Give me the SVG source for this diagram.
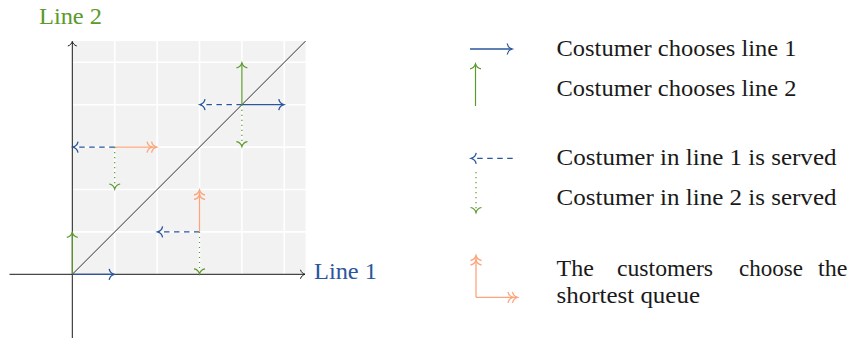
<svg xmlns="http://www.w3.org/2000/svg" width="861" height="338" viewBox="0 0 861 338">
<style>
.t{font-family:"Liberation Serif","DejaVu Serif","Noto Serif",serif;font-size:24px;fill:#1a1a1a}
.grid{stroke:#ffffff;stroke-width:1.6;fill:none}
.ax{stroke:#1a1a1a;stroke-width:1;fill:none}
.b{stroke:#2a569b;stroke-width:1.3;fill:none}
.g{stroke:#5b9a2b;stroke-width:1.2;fill:none}
.o{stroke:#fba57c;stroke-width:1.3;fill:none}
.bd{stroke-dasharray:5.5,4.5}
.gd{stroke-dasharray:1.2,3.8}
</style>
<defs>
<marker id="mk" markerUnits="userSpaceOnUse" viewBox="-7 -6 8 12" refX="0" refY="0" markerWidth="8" markerHeight="12" orient="auto" overflow="visible">
<path d="M-4.5,-4.5 C-4,-2 -1.5,-0.4 0,0 C-1.5,0.4 -4,2 -4.5,4.5" fill="none" stroke="#1a1a1a" stroke-width="1"/>
</marker>
<marker id="mb" markerUnits="userSpaceOnUse" viewBox="-7 -6 8 12" refX="0" refY="0" markerWidth="8" markerHeight="12" orient="auto" overflow="visible">
<path d="M-5,-5.5 C-4.5,-2.4 -1.7,-0.5 0,0 C-1.7,0.5 -4.5,2.4 -5,5.5" fill="none" stroke="#2a569b" stroke-width="1.3"/>
</marker>
<marker id="mg" markerUnits="userSpaceOnUse" viewBox="-7 -6 8 12" refX="0" refY="0" markerWidth="8" markerHeight="12" orient="auto" overflow="visible">
<path d="M-5,-5.5 C-4.5,-2.4 -1.7,-0.5 0,0 C-1.7,0.5 -4.5,2.4 -5,5.5" fill="none" stroke="#5b9a2b" stroke-width="1.2"/>
</marker>
<marker id="mo" markerUnits="userSpaceOnUse" viewBox="-12 -6 13 12" refX="0" refY="0" markerWidth="13" markerHeight="12" orient="auto" overflow="visible">
<path d="M-5,-5.5 C-4.5,-2.4 -1.7,-0.5 0,0 C-1.7,0.5 -4.5,2.4 -5,5.5 M-9.5,-5.5 C-9,-2.4 -6.2,-0.5 -4.5,0 C-6.2,0.5 -9,2.4 -9.5,5.5" fill="none" stroke="#fba57c" stroke-width="1.3"/>
</marker>
</defs>

<g id="grid">
<rect x="72.3" y="41.1" width="233.2" height="233.2" fill="#f2f2f2"/>
<path class="grid" d="M114.7,41.1V274.3M157.1,41.1V274.3M199.5,41.1V274.3M241.9,41.1V274.3M284.3,41.1V274.3M72.3,231.9H305.5M72.3,189.5H305.5M72.3,147.1H305.5M72.3,104.7H305.5M72.3,62.3H305.5"/>
</g>

<g id="axes">
<line class="ax" x1="9.5" y1="274.3" x2="305" y2="274.3" marker-end="url(#mk)"/>
<line class="ax" x1="72.3" y1="338" x2="72.3" y2="41.5" marker-end="url(#mk)"/>
<line x1="72.3" y1="274.3" x2="305.5" y2="41.1" stroke="#1a1a1a" stroke-width="0.9"/>
<text id="label-line1" class="t" x="314" y="279" textLength="63" lengthAdjust="spacingAndGlyphs" style="fill:#2a569b">Line 1</text>
<text id="label-line2" class="t" x="39" y="24" textLength="63" lengthAdjust="spacingAndGlyphs" style="fill:#5b9a2b">Line 2</text>
</g>

<g id="connectors">
<line class="b" x1="72.3" y1="274.3" x2="114.2" y2="274.3" marker-end="url(#mb)"/>
<line class="g" x1="72.3" y1="274.3" x2="72.3" y2="232.4" marker-end="url(#mg)"/>

<line class="b bd" x1="114.7" y1="147.1" x2="73" y2="147.1" marker-end="url(#mb)"/>
<line class="o" x1="114.7" y1="147.1" x2="156.6" y2="147.1" marker-end="url(#mo)"/>
<line class="g gd" x1="114.7" y1="147.1" x2="114.7" y2="189" marker-end="url(#mg)"/>

<line class="b bd" x1="199.5" y1="231.9" x2="157.6" y2="231.9" marker-end="url(#mb)"/>
<line class="o" x1="199.5" y1="231.9" x2="199.5" y2="190" marker-end="url(#mo)"/>
<line class="g gd" x1="199.5" y1="231.9" x2="199.5" y2="273.8" marker-end="url(#mg)"/>

<line class="b" x1="241.9" y1="104.7" x2="283.8" y2="104.7" marker-end="url(#mb)"/>
<line class="b bd" x1="241.9" y1="104.7" x2="200" y2="104.7" marker-end="url(#mb)"/>
<line class="g" x1="241.9" y1="104.7" x2="241.9" y2="62.8" marker-end="url(#mg)"/>
<line class="g gd" x1="241.9" y1="104.7" x2="241.9" y2="146.6" marker-end="url(#mg)"/>
</g>

<g id="legend-1">
<line class="b" x1="470" y1="49" x2="512.2" y2="49" marker-end="url(#mb)"/>
<text class="t" x="556.5" y="56" textLength="240" lengthAdjust="spacingAndGlyphs">Costumer chooses line 1</text>
</g>
<g id="legend-2">
<line class="g" x1="475.5" y1="106" x2="475.5" y2="63.8" marker-end="url(#mg)"/>
<text class="t" x="556.5" y="96" textLength="240" lengthAdjust="spacingAndGlyphs">Costumer chooses line 2</text>
</g>
<g id="legend-3">
<line class="b bd" x1="512.7" y1="158.3" x2="471.2" y2="158.3" marker-end="url(#mb)"/>
<text class="t" x="556.5" y="165" textLength="280" lengthAdjust="spacingAndGlyphs">Costumer in line 1 is served</text>
</g>
<g id="legend-4">
<line class="g gd" x1="476" y1="172" x2="476" y2="212.5" marker-end="url(#mg)"/>
<text class="t" x="556.5" y="205" textLength="280" lengthAdjust="spacingAndGlyphs">Costumer in line 2 is served</text>
</g>
<g id="legend-5">
<line class="o" x1="476" y1="297.3" x2="476" y2="255.5" marker-end="url(#mo)"/>
<line class="o" x1="476" y1="297.3" x2="517.5" y2="297.3" marker-end="url(#mo)"/>
<text class="t" x="556.5" y="276">The</text>
<text class="t" x="617" y="276" textLength="96" lengthAdjust="spacingAndGlyphs">customers</text>
<text class="t" x="739" y="276" textLength="64" lengthAdjust="spacingAndGlyphs">choose</text>
<text class="t" x="818" y="276">the</text>
<text class="t" x="556.5" y="303" textLength="143.5" lengthAdjust="spacingAndGlyphs">shortest queue</text>
</g>
</svg>
